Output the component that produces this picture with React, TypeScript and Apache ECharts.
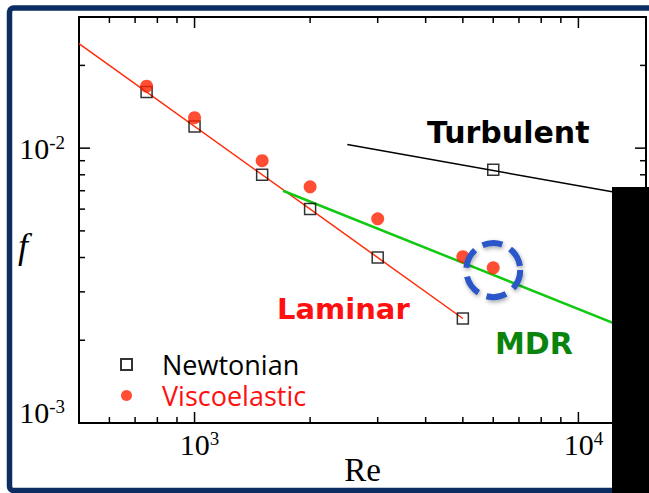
import React, { useEffect, useRef } from 'react';
import * as echarts from 'echarts';

// ---- data ----
const newtonianRe = [750, 1000, 1500, 2000, 3000, 5000, 6000];
const newtonianF = [0.016, 0.0120, 0.0080, 0.0060, 0.0040, 0.0024, 0.00834];
const viscoRe = [750, 1000, 1500, 2000, 3000, 5000, 6000];
const viscoF = [0.0168, 0.0129, 0.0090, 0.00723, 0.00553, 0.00403, 0.00367];
const laminarRe = [500, 5000];
const laminarF = [0.024, 0.0024];
const turbulentRe = [2500, 15000];
const turbulentF = [0.0103, 0.0066];
const mdrRe = [1700, 15000];
const mdrF = [0.0070, 0.00207];
const highlightPoint = [6000, 0.0036];

// ---- axes ----
const xMin = 500;
const xMax = 15000;
const yMin = 0.001;
const yMax = 0.03;
const xLabelExponents = [3, 4];
const yLabelExponents = [-2, -3];
const xMajorTicks = [1000, 10000];
const xMinorTicks = [600, 700, 800, 900, 2000, 3000, 4000, 5000, 6000, 7000, 8000, 9000];
const yMajorTicks = [0.01];
const yMinorTicks = [0.002, 0.003, 0.004, 0.005, 0.006, 0.007, 0.008, 0.009, 0.02];

const SERIF = '"Liberation Serif", "Times New Roman", serif';
const SANS = '"Open Sans", "DejaVu Sans", sans-serif';
const BOLD = '"DejaVu Sans", sans-serif';

function expOf(v: number, list: number[]): number | null {
  const l = Math.log10(v);
  const e = Math.round(l);
  if (Math.abs(l - e) > 1e-6) return null;
  return list.indexOf(e) >= 0 ? e : null;
}

export default function App() {
  const ref = useRef<HTMLDivElement>(null);
  useEffect(() => {
    if (!ref.current) return;
    const chart = echarts.init(ref.current, null, { renderer: 'svg' });

    const tickData: number[][] = [];
    xMinorTicks.forEach((v) => tickData.push([v, 0.005, 0]));
    xMajorTicks.forEach((v) => tickData.push([v, 0.005, 1]));
    yMinorTicks.forEach((v) => tickData.push([1000, v, 2]));
    yMajorTicks.forEach((v) => tickData.push([1000, v, 3]));

    const option: any = {
      animation: false,
      backgroundColor: '#ffffff',
      grid: {
        left: 79,
        top: 17,
        right: 3,
        bottom: 70,
        containLabel: false,
        outerBoundsMode: 'none',
        show: true,
        borderColor: '#000',
        borderWidth: 2,
        backgroundColor: 'transparent',
      },
      xAxis: {
        type: 'log',
        logBase: 10,
        min: xMin,
        max: xMax,
        axisLine: { show: false },
        axisTick: { show: false },
        splitLine: { show: false },
        minorTick: { show: false },
        axisLabel: {
          margin: 6,
          showMinLabel: true,
          showMaxLabel: true,
          formatter: (v: number) => {
            const e = expOf(v, xLabelExponents);
            return e === null ? '' : `{b|10}{s|${e}}`;
          },
          rich: {
            b: { fontFamily: SERIF, fontSize: 30, color: '#000', padding: [0, 0, 0, 10] },
            s: { fontFamily: SERIF, fontSize: 19, color: '#000', verticalAlign: 'top' },
          },
        },
        name: 'Re',
        nameLocation: 'middle',
        nameGap: 30,
        nameMoveOverlap: false,
        nameTextStyle: { fontFamily: SERIF, fontSize: 33, color: '#000' },
      },
      yAxis: {
        type: 'log',
        logBase: 10,
        min: yMin,
        max: yMax,
        axisLine: { show: false },
        axisTick: { show: false },
        splitLine: { show: false },
        minorTick: { show: false },
        axisLabel: {
          margin: 14,
          showMinLabel: true,
          showMaxLabel: true,
          formatter: (v: number) => {
            const e = expOf(v, yLabelExponents);
            if (e === null) return '';
            if (e === -3) return `{b3|10}{s3|${e}}`;
            return `{b|10}{s|${e}}`;
          },
          rich: {
            b: { fontFamily: SERIF, fontSize: 30, color: '#000' },
            s: { fontFamily: SERIF, fontSize: 19, color: '#000', verticalAlign: 'top' },
            b3: { fontFamily: SERIF, fontSize: 30, color: '#000', padding: [0, 0, 22, 0] },
            s3: { fontFamily: SERIF, fontSize: 19, color: '#000', verticalAlign: 'top' },
          },
        },
      },
      legend: {
        orient: 'vertical',
        left: 120,
        top: 351,
        padding: 0,
        itemWidth: 11,
        itemHeight: 11,
        itemGap: 4,
        selectedMode: false,
        textStyle: { fontFamily: SANS, fontSize: 27, padding: [0, 0, 0, 25] },
        data: [
          { name: 'Newtonian', textStyle: { color: '#000' } },
          { name: 'Viscoelastic', textStyle: { color: '#ff1010' } },
        ],
      },
      series: [
        {
          name: 'Laminar',
          type: 'line',
          data: laminarRe.map((x, i) => [x, laminarF[i]]),
          showSymbol: false,
          symbol: 'none',
          lineStyle: { color: '#ff2d0a', width: 1.5 },
          z: 2,
        },
        {
          name: 'Turbulent',
          type: 'line',
          data: turbulentRe.map((x, i) => [x, turbulentF[i]]),
          symbol: 'none',
          lineStyle: { color: '#000', width: 1.5 },
          z: 2,
        },
        {
          name: 'MDR',
          type: 'line',
          data: mdrRe.map((x, i) => [x, mdrF[i]]),
          symbol: 'none',
          lineStyle: { color: '#12c912', width: 2.5 },
          z: 2,
        },
        {
          name: 'Newtonian',
          type: 'scatter',
          data: newtonianRe.map((x, i) => [x, newtonianF[i]]),
          symbol: 'rect',
          symbolSize: 11,
          itemStyle: { color: 'rgba(255,255,255,0)', borderColor: '#000', borderWidth: 1.5 },
          z: 3,
        },
        {
          name: 'Viscoelastic',
          type: 'scatter',
          data: viscoRe.map((x, i) => [x, viscoF[i]]),
          symbol: 'circle',
          symbolSize: 13,
          itemStyle: { color: '#ff2200' },
          z: 4,
        },
        {
          name: 'ticks',
          type: 'custom',
          coordinateSystem: 'cartesian2d',
          silent: true,
          clip: false,
          z: 5,
          encode: { x: 0, y: 1 },
          data: tickData,
          renderItem: (params: any, api: any) => {
            const kind = api.value(2);
            const p = api.coord([api.value(0), api.value(1)]);
            const cs = params.coordSys;
            const len = kind === 1 || kind === 3 ? 11 : 6;
            const st = { stroke: '#000', lineWidth: 1.5 };
            if (kind <= 1) {
              const yb = cs.y + cs.height;
              return {
                type: 'group',
                children: [
                  { type: 'line', shape: { x1: p[0], y1: yb, x2: p[0], y2: yb - len }, style: st },
                  { type: 'line', shape: { x1: p[0], y1: cs.y, x2: p[0], y2: cs.y + len }, style: st },
                ],
              };
            }
            const xr = cs.x + cs.width;
            return {
              type: 'group',
              children: [
                { type: 'line', shape: { x1: cs.x, y1: p[1], x2: cs.x + len, y2: p[1] }, style: st },
                { type: 'line', shape: { x1: xr, y1: p[1], x2: xr - len, y2: p[1] }, style: st },
              ],
            };
          },
        },
        {
          name: 'highlight',
          type: 'custom',
          coordinateSystem: 'cartesian2d',
          silent: true,
          clip: false,
          z: 6,
          data: [highlightPoint],
          renderItem: (params: any, api: any) => {
            const p = api.coord([api.value(0), api.value(1)]);
            return {
              type: 'circle',
              shape: { cx: p[0], cy: p[1], r: 27 },
              style: {
                fill: 'none',
                stroke: '#2b56c8',
                lineWidth: 6,
                lineDash: [20, 9],
                shadowBlur: 4,
                shadowOffsetX: 1,
                shadowOffsetY: 2,
                shadowColor: 'rgba(0,0,0,0.35)',
              },
            };
          },
        },
      ],
      graphic: [
        {
          type: 'text',
          left: 427,
          top: 117,
          style: { text: 'Turbulent', fontFamily: BOLD, fontWeight: 'bold', fontSize: 30, fill: '#000' },
          z: 10,
        },
        {
          type: 'text',
          left: 277,
          top: 294,
          style: { text: 'Laminar', fontFamily: BOLD, fontWeight: 'bold', fontSize: 29, fill: '#ff1010' },
          z: 10,
        },
        {
          type: 'text',
          left: 495,
          top: 328,
          style: { text: 'MDR', fontFamily: BOLD, fontWeight: 'bold', fontSize: 30, fill: '#0b840b' },
          z: 10,
        },
        {
          type: 'text',
          left: 18,
          top: 228,
          style: { text: 'f', fontFamily: SERIF, fontStyle: 'italic', fontSize: 36, fill: '#000' },
          z: 10,
        },
        {
          type: 'rect',
          shape: { x: 9.5, y: 8, width: 660, height: 482.5, r: 4 },
          style: { fill: 'none', stroke: '#0c2d62', lineWidth: 5.5 },
          z: 20,
          silent: true,
        },
        {
          type: 'rect',
          shape: { x: 612, y: 187, width: 40, height: 310 },
          style: { fill: '#000' },
          z: 30,
          silent: true,
        },
      ],
    };
    chart.setOption(option);
    return () => chart.dispose();
  }, []);
  return (
    <div
      ref={ref}
      style={{ position: 'absolute', left: 0, top: 0, width: 649, height: 493, background: '#fff' }}
    />
  );
}
